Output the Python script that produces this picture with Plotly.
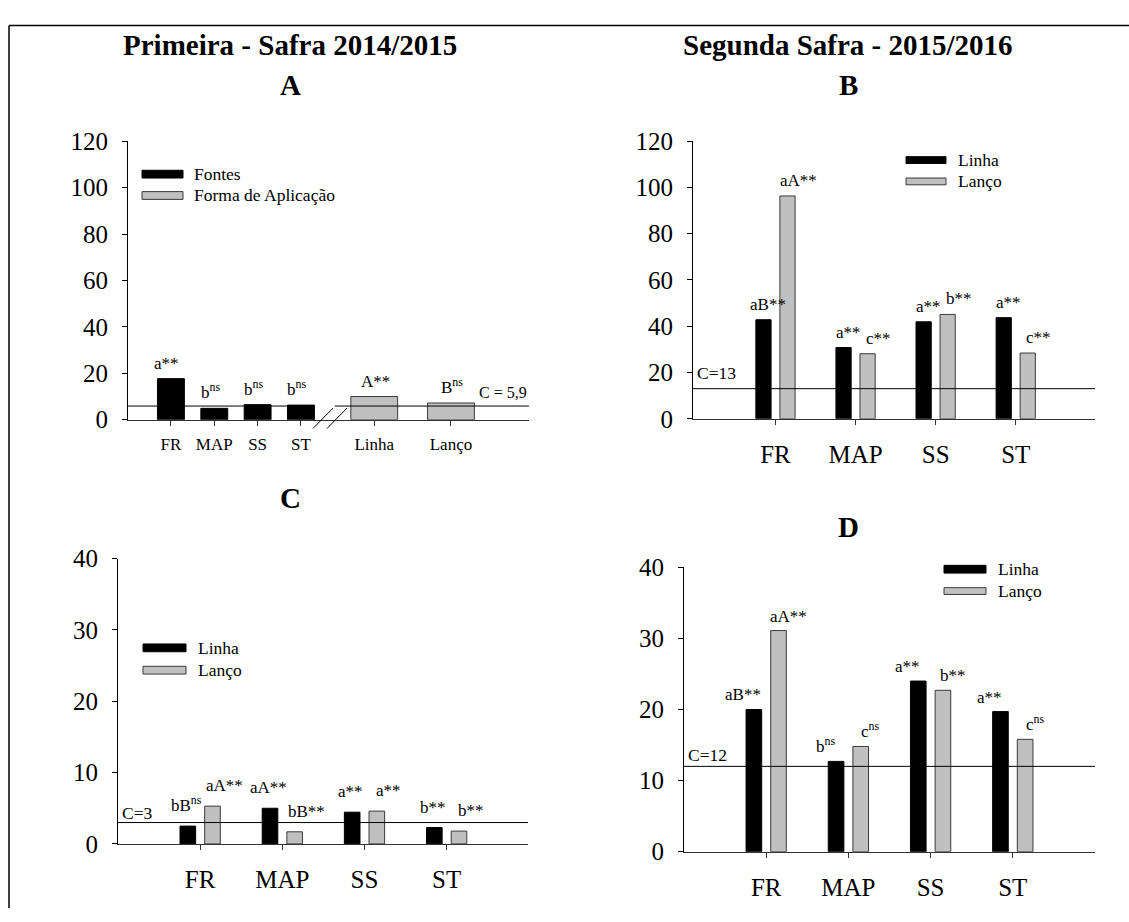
import plotly.graph_objects as go

W, H = 1129, 922
FONT = "Liberation Serif, Times New Roman, serif"

# ---------------- data ----------------
# Panel A: first season, sources and application method
fontes_cats = ["FR", "MAP", "SS", "ST"]
fontes_vals = [17.7, 4.9, 6.5, 6.3]
fontes_sig = ["a**", "b<sup>ns</sup>", "b<sup>ns</sup>", "b<sup>ns</sup>"]
aplic_cats = ["Linha", "Lanço"]
aplic_vals = [10.0, 7.2]
aplic_sig = ["A**", "B<sup>ns</sup>"]
c_a = 5.9

# Panels B, C, D: sources x application method
fontes = ["FR", "MAP", "SS", "ST"]

linha_b = [42.8, 30.8, 41.9, 43.7]
lanco_b = [96.3, 28.1, 45.1, 28.4]
linha_b_sig = ["aB**", "a**", "a**", "a**"]
lanco_b_sig = ["aA**", "c**", "b**", "c**"]
c_b = 13

linha_c = [2.5, 5.0, 4.45, 2.3]
lanco_c = [5.3, 1.7, 4.6, 1.8]
linha_c_sig = ["bB<sup>ns</sup>", "aA**", "a**", "b**"]
lanco_c_sig = ["aA**", "bB**", "a**", "b**"]
c_c = 3

linha_d = [20.0, 12.7, 24.0, 19.7]
lanco_d = [31.1, 14.8, 22.7, 15.8]
linha_d_sig = ["aB**", "b<sup>ns</sup>", "a**", "a**"]
lanco_d_sig = ["aA**", "c<sup>ns</sup>", "b**", "c<sup>ns</sup>"]
c_d = 12

# ---------------- styling ----------------
BLACK = "#000000"
GREY = "#c0c0c0"
GREY_EDGE = "#3a3a3a"
AXIS_X = "#333333"


def fx(p):
    return p / W


def fy(p):
    return 1 - p / H


fig = go.Figure()
annotations = []
shapes = []

# panel frames in pixels: left, right, top (max value), bottom (zero)
frames = {
    "": dict(x0=128, x1=529, top=132, bot=419, yr=[0, 120], dtick=20),
    "2": dict(x0=693, x1=1095, top=132, bot=418, yr=[0, 120], dtick=20),
    "3": dict(x0=118, x1=528, top=562, bot=856, yr=[0, 40], dtick=10),
    "4": dict(x0=684, x1=1095, top=571, bot=864, yr=[0, 40], dtick=10),
}

layout_axes = {}
for n, f in frames.items():
    layout_axes[f"yaxis{n}"] = dict(
        domain=[fy(f["bot"]), fy(f["top"])], anchor=f"x{n}", range=f["yr"],
        dtick=f["dtick"], showline=True, linecolor=BLACK, linewidth=1,
        ticks="outside", ticklen=5, tickcolor=BLACK, showgrid=False,
        zeroline=False, tickfont=dict(family=FONT, size=25, color=BLACK),
        ticklabelstandoff=9, fixedrange=True,
    )

# ---- Panel A: numeric slots with a break between sources and methods ----
slots_a = [0, 1, 2, 3, 4.69, 6.46]
layout_axes["xaxis"] = dict(
    domain=[fx(128), fx(529)], anchor="y", range=[-0.99, 8.26],
    tickvals=slots_a, ticktext=fontes_cats + aplic_cats,
    showline=True, linecolor=AXIS_X, linewidth=1, ticks="outside", ticklen=5,
    tickcolor=AXIS_X, showgrid=False, zeroline=False,
    tickfont=dict(family=FONT, size=17, color=BLACK), ticklabelstandoff=4,
    fixedrange=True,
)

fig.add_trace(go.Bar(
    x=slots_a[:4], y=fontes_vals, width=0.62, xaxis="x", yaxis="y",
    marker=dict(color=BLACK, line=dict(color=BLACK, width=1)), showlegend=False,
))
fig.add_trace(go.Bar(
    x=slots_a[4:], y=aplic_vals, width=1.08, xaxis="x", yaxis="y",
    marker=dict(color=GREY, line=dict(color=GREY_EDGE, width=1)), showlegend=False,
))

for xs, vals, sig, dx in ((slots_a[:4], fontes_vals, fontes_sig, -4),
                          (slots_a[4:], aplic_vals, aplic_sig, 1)):
    for xv, v, s in zip(xs, vals, sig):
        annotations.append(dict(
            x=xv, y=v, xref="x", yref="y", text=s, showarrow=False,
            yanchor="bottom", xanchor="center", xshift=dx, yshift=4,
            font=dict(family=FONT, size=17, color=BLACK),
        ))

# reference line in A, interrupted at the axis break
for xa, xb in ((-0.99, 3.28), (3.78, 8.26)):
    shapes.append(dict(type="line", xref="x", yref="y", x0=xa, x1=xb,
                       y0=c_a, y1=c_a, line=dict(color=BLACK, width=1)))
annotations.append(dict(
    x=1, y=c_a, xref="x domain", yref="y", text="C = 5,9", showarrow=False,
    xanchor="right", yanchor="bottom", yshift=3,
    font=dict(family=FONT, size=16, color=BLACK),
))
# axis break marks
for xa in (313, 327):
    shapes.append(dict(type="line", xref="paper", yref="paper",
                       x0=fx(xa), y0=fy(428), x1=fx(xa + 20), y1=fy(407),
                       line=dict(color=BLACK, width=1)))

# ---- Panels B, C, D: grouped bars ----
grouped = [
    ("2", [-1.03, 3.99], linha_b, lanco_b, linha_b_sig, lanco_b_sig, c_b, "C=13", (5, 11), 4, 4),
    ("3", [-1.0, 3.99], linha_c, lanco_c, linha_c_sig, lanco_c_sig, c_c, "C=3", (-2, 12), 9, -2),
    ("4", [-1.0, 4.0], linha_d, lanco_d, linha_d_sig, lanco_d_sig, c_d, "C=12", (-11, 10), 3, -1),
]

BAR_W = 0.19
HALF = 0.15

for n, xr, lin, lan, lin_sig, lan_sig, cval, ctext, (dx_l, dx_g), ysh, csh in grouped:
    layout_axes[f"xaxis{n}"] = dict(
        domain=[fx(frames[n]["x0"]), fx(frames[n]["x1"])], anchor=f"y{n}",
        type="category", categoryorder="array", categoryarray=fontes, range=xr,
        showline=True, linecolor=AXIS_X, linewidth=1, ticks="outside", ticklen=5,
        tickcolor=AXIS_X, showgrid=False, zeroline=False,
        tickfont=dict(family=FONT, size=25, color=BLACK), ticklabelstandoff=8,
        fixedrange=True,
    )
    fig.add_trace(go.Bar(
        x=fontes, y=lin, width=BAR_W, offset=-HALF - BAR_W / 2,
        xaxis=f"x{n}", yaxis=f"y{n}", name="Linha",
        marker=dict(color=BLACK, line=dict(color=BLACK, width=1)), showlegend=False,
    ))
    fig.add_trace(go.Bar(
        x=fontes, y=lan, width=BAR_W, offset=HALF - BAR_W / 2,
        xaxis=f"x{n}", yaxis=f"y{n}", name="Lanço",
        marker=dict(color=GREY, line=dict(color=GREY_EDGE, width=1)), showlegend=False,
    ))
    for cat, vl, sl, vg, sg in zip(fontes, lin, lin_sig, lan, lan_sig):
        annotations.append(dict(
            x=cat, y=vl, xref=f"x{n}", yref=f"y{n}", text=sl, showarrow=False,
            yanchor="bottom", xanchor="center", xshift=-HALF * 80 + dx_l, yshift=ysh,
            font=dict(family=FONT, size=17, color=BLACK),
        ))
        annotations.append(dict(
            x=cat, y=vg, xref=f"x{n}", yref=f"y{n}", text=sg, showarrow=False,
            yanchor="bottom", xanchor="center", xshift=HALF * 80 + dx_g, yshift=ysh,
            font=dict(family=FONT, size=17, color=BLACK),
        ))
    shapes.append(dict(type="line", xref=f"x{n} domain", yref=f"y{n}",
                       x0=0, x1=1, y0=cval, y1=cval,
                       line=dict(color=BLACK, width=1)))
    annotations.append(dict(
        x=0, y=cval, xref=f"x{n} domain", yref=f"y{n}", text=ctext,
        showarrow=False, xanchor="left", yanchor="bottom", xshift=2, yshift=csh,
        font=dict(family=FONT, size=17.5, color=BLACK),
    ))

# ---- legends (drawn as swatches + text) ----
legends = [
    (142, 183, 162, 170, 184, 192, 192, "Fontes", "Forma de Aplicação"),
    (906, 946, 148, 155, 170, 177, 956, "Linha", "Lanço"),
    (143, 186, 650, 658, 673, 681, 196, "Linha", "Lanço"),
    (944, 986, 569, 577, 592, 599, 996, "Linha", "Lanço"),
]
for xa, xb, t1, b1, t2, b2, tx, lab1, lab2 in legends:
    shapes.append(dict(type="rect", xref="paper", yref="paper",
                       x0=fx(xa), x1=fx(xb), y0=fy(b1), y1=fy(t1),
                       fillcolor=BLACK, line=dict(color=BLACK, width=1)))
    shapes.append(dict(type="rect", xref="paper", yref="paper",
                       x0=fx(xa), x1=fx(xb), y0=fy(b2), y1=fy(t2),
                       fillcolor=GREY, line=dict(color=GREY_EDGE, width=1)))
    for lab, yc in ((lab1, (t1 + b1) / 2), (lab2, (t2 + b2) / 2)):
        annotations.append(dict(
            x=fx(tx), y=fy(yc), xref="paper", yref="paper", text=lab,
            showarrow=False, xanchor="left", yanchor="middle",
            font=dict(family=FONT, size=17.5, color=BLACK),
        ))

# ---- titles and panel letters ----
headings = [
    ("<b>Primeira - Safra 2014/2015</b>", 290, 33),
    ("<b>Segunda Safra - 2015/2016</b>", 848, 33),
    ("<b>A</b>", 290, 74),
    ("<b>B</b>", 848, 74),
    ("<b>C</b>", 290, 500),
    ("<b>D</b>", 848, 530),
]
for txt, xc, yc in headings:
    annotations.append(dict(
        x=fx(xc), y=fy(yc), xref="paper", yref="paper", text=txt,
        showarrow=False, xanchor="center", yanchor="middle",
        font=dict(family=FONT, size=29, color=BLACK),
    ))

# outer frame (top and left edges)
shapes.append(dict(type="line", xref="paper", yref="paper",
                   x0=fx(9), x1=1, y0=fy(13), y1=fy(13),
                   line=dict(color=BLACK, width=1.5)))
shapes.append(dict(type="line", xref="paper", yref="paper",
                   x0=fx(9), x1=fx(9), y0=fy(13), y1=0,
                   line=dict(color=BLACK, width=1.5)))

fig.update_layout(
    width=W, height=H, margin=dict(l=0, r=0, t=0, b=0),
    paper_bgcolor="white", plot_bgcolor="white",
    barmode="overlay", showlegend=False,
    annotations=annotations, shapes=shapes,
    font=dict(family=FONT, color=BLACK),
    **layout_axes,
)

fig.write_html("out.html")
